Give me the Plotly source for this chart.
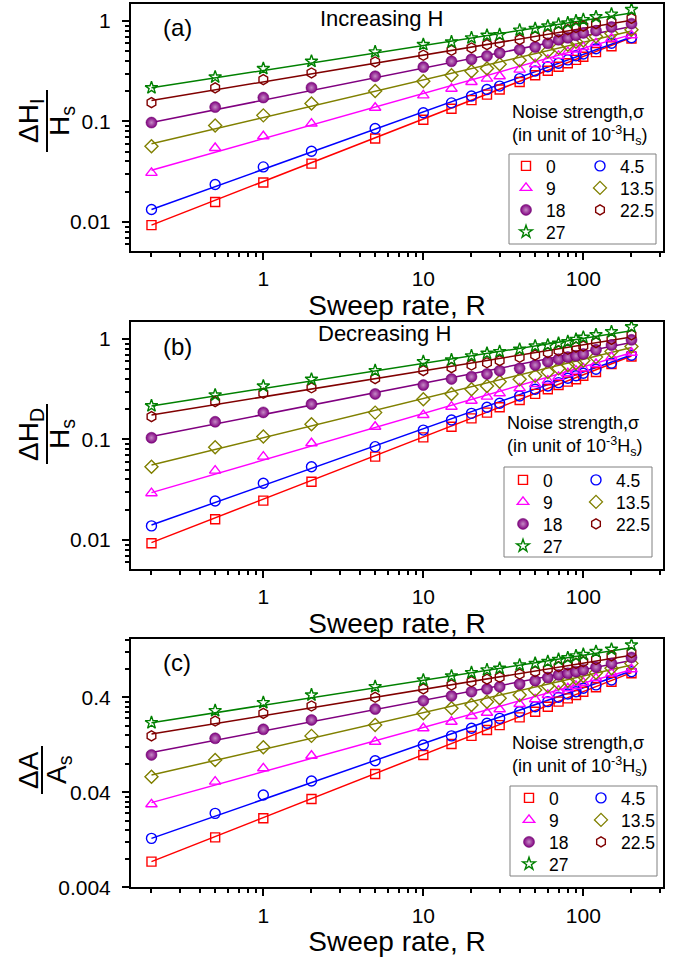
import numpy as np
import plotly.graph_objects as go

# Sweep rates common to all three panels
rate = [0.2, 0.5, 1, 2, 5, 10, 15, 20, 25, 30, 40, 50, 60, 70, 80, 90, 100, 120, 150, 200]
sigma_labels = ["0", "4.5", "9", "13.5", "18", "22.5", "27"]

# (a) hysteresis width, increasing field, dH_I / H_s
inc_s0 = [0.0093, 0.0158, 0.0247, 0.0381, 0.0676, 0.104, 0.134, 0.163, 0.185, 0.208, 0.247, 0.288, 0.32, 0.35, 0.38, 0.41, 0.44, 0.49, 0.56, 0.67]
inc_s4_5 = [0.0133, 0.0236, 0.0353, 0.0505, 0.085, 0.122, 0.153, 0.179, 0.208, 0.225, 0.267, 0.318, 0.35, 0.38, 0.41, 0.45, 0.47, 0.53, 0.60, 0.68]
inc_s9 = [0.0308, 0.0545, 0.0713, 0.0953, 0.137, 0.182, 0.212, 0.247, 0.267, 0.282, 0.328, 0.371, 0.41, 0.45, 0.49, 0.52, 0.55, 0.60, 0.67, 0.72]
inc_s13_5 = [0.0567, 0.091, 0.115, 0.151, 0.201, 0.251, 0.288, 0.316, 0.336, 0.371, 0.406, 0.456, 0.50, 0.54, 0.58, 0.62, 0.64, 0.70, 0.75, 0.82]
inc_s18 = [0.0975, 0.139, 0.173, 0.217, 0.282, 0.348, 0.397, 0.416, 0.449, 0.48, 0.519, 0.551, 0.60, 0.65, 0.68, 0.72, 0.76, 0.80, 0.87, 0.94]
inc_s22_5 = [0.154, 0.216, 0.261, 0.304, 0.391, 0.456, 0.511, 0.539, 0.582, 0.604, 0.653, 0.693, 0.73, 0.78, 0.82, 0.86, 0.89, 0.94, 0.98, 1.06]
inc_s27 = [0.216, 0.277, 0.336, 0.397, 0.492, 0.582, 0.618, 0.678, 0.72, 0.73, 0.81, 0.84, 0.89, 0.93, 0.955, 1.0, 1.03, 1.10, 1.17, 1.30]
# power-law fits  y = amp * R**expo
inc_fit_amp = [0.0253, 0.0334, 0.0674, 0.1095, 0.163, 0.248, 0.322]
inc_fit_exp = [0.622, 0.572, 0.45, 0.374, 0.319, 0.266, 0.248]

# (b) hysteresis width, decreasing field, dH_D / H_s
dec_s0 = [0.00927, 0.0161, 0.0246, 0.038, 0.0675, 0.105, 0.134, 0.162, 0.185, 0.209, 0.247, 0.284, 0.316, 0.348, 0.376, 0.397, 0.43, 0.47, 0.564, 0.67]
dec_s4_5 = [0.0138, 0.0244, 0.0367, 0.0536, 0.0848, 0.124, 0.156, 0.182, 0.209, 0.229, 0.271, 0.316, 0.34, 0.368, 0.407, 0.43, 0.456, 0.50, 0.573, 0.69]
dec_s9 = [0.0292, 0.049, 0.0675, 0.0917, 0.134, 0.175, 0.212, 0.243, 0.267, 0.288, 0.323, 0.356, 0.385, 0.42, 0.456, 0.484, 0.51, 0.564, 0.66, 0.73]
dec_s13_5 = [0.0536, 0.0836, 0.107, 0.142, 0.185, 0.251, 0.284, 0.316, 0.34, 0.376, 0.397, 0.43, 0.47, 0.51, 0.55, 0.573, 0.61, 0.66, 0.75, 0.84]
dec_s18 = [0.104, 0.150, 0.186, 0.225, 0.284, 0.348, 0.40, 0.421, 0.449, 0.484, 0.51, 0.55, 0.594, 0.63, 0.66, 0.68, 0.71, 0.78, 0.87, 0.98]
dec_s22_5 = [0.169, 0.238, 0.288, 0.327, 0.403, 0.484, 0.519, 0.551, 0.58, 0.608, 0.658, 0.69, 0.73, 0.765, 0.79, 0.83, 0.85, 0.92, 0.99, 1.10]
dec_s27 = [0.216, 0.277, 0.34, 0.397, 0.484, 0.594, 0.618, 0.678, 0.72, 0.748, 0.79, 0.85, 0.87, 0.905, 0.94, 0.99, 1.04, 1.10, 1.18, 1.32]
dec_fit_amp = [0.0255, 0.0349, 0.0624, 0.1043, 0.177, 0.2655, 0.322]
dec_fit_exp = [0.619, 0.564, 0.464, 0.39, 0.312, 0.259, 0.249]

# (c) loop area, dA / A_s
area_s0 = [0.00745, 0.0134, 0.0213, 0.034, 0.0624, 0.0988, 0.129, 0.157, 0.181, 0.204, 0.246, 0.282, 0.318, 0.36, 0.39, 0.423, 0.458, 0.51, 0.583, 0.716]
area_s4_5 = [0.0131, 0.024, 0.0375, 0.0526, 0.086, 0.126, 0.157, 0.189, 0.213, 0.24, 0.282, 0.318, 0.36, 0.40, 0.434, 0.458, 0.498, 0.54, 0.608, 0.744]
area_s9 = [0.0299, 0.0518, 0.0716, 0.097, 0.136, 0.189, 0.221, 0.254, 0.275, 0.299, 0.34, 0.381, 0.423, 0.47, 0.498, 0.526, 0.57, 0.634, 0.716, 0.79]
area_s13_5 = [0.0584, 0.0875, 0.119, 0.157, 0.204, 0.271, 0.306, 0.332, 0.36, 0.39, 0.423, 0.478, 0.526, 0.562, 0.598, 0.634, 0.67, 0.726, 0.81, 0.91]
area_s18 = [0.099, 0.148, 0.184, 0.231, 0.301, 0.368, 0.413, 0.458, 0.49, 0.517, 0.552, 0.598, 0.645, 0.687, 0.716, 0.744, 0.776, 0.83, 0.91, 1.05]
area_s22_5 = [0.157, 0.225, 0.271, 0.324, 0.40, 0.49, 0.539, 0.583, 0.62, 0.65, 0.703, 0.744, 0.79, 0.84, 0.875, 0.91, 0.95, 1.0, 1.09, 1.18]
area_s27 = [0.216, 0.289, 0.351, 0.423, 0.517, 0.608, 0.67, 0.726, 0.776, 0.807, 0.875, 0.91, 0.95, 1.0, 1.04, 1.09, 1.13, 1.21, 1.28, 1.42]
area_fit_amp = [0.02166, 0.0337, 0.0659, 0.1132, 0.1766, 0.256, 0.33]
area_fit_exp = [0.663, 0.587, 0.466, 0.386, 0.323, 0.277, 0.263]

W, H = 677, 958
FONT = "Liberation Sans, Arial, sans-serif"

styles = [
    dict(symbol="square-open", color="#ff0000", size=9),
    dict(symbol="circle-open", color="#0000ff", size=10),
    dict(symbol="triangle-up-open", color="#ff00ff", size=10),
    dict(symbol="diamond-open", color="#808000", size=10),
    dict(symbol="circle", color="#800080", size=11),
    dict(symbol="hexagon-open", color="#800000", size=10),
    dict(symbol="star-open", color="#008000", size=9.5),
]

# legend frame (x0, y0, x1, y1), symbol x of the two columns, row centres (px)
legend_layout = [
    dict(box=(509, 154, 656, 244), cols=(527, 601), rows=(166, 188, 210, 232)),
    dict(box=(504, 467, 652, 557), cols=(524, 597), rows=(480, 502, 524, 546)),
    dict(box=(510, 786, 657, 876), cols=(530, 602), rows=(798, 820, 842, 864)),
]

panels = [
    dict(series=[inc_s0, inc_s4_5, inc_s9, inc_s13_5, inc_s18, inc_s22_5, inc_s27],
         amp=inc_fit_amp, expo=inc_fit_exp, xa="x", ya="y"),
    dict(series=[dec_s0, dec_s4_5, dec_s9, dec_s13_5, dec_s18, dec_s22_5, dec_s27],
         amp=dec_fit_amp, expo=dec_fit_exp, xa="x2", ya="y2"),
    dict(series=[area_s0, area_s4_5, area_s9, area_s13_5, area_s18, area_s22_5, area_s27],
         amp=area_fit_amp, expo=area_fit_exp, xa="x3", ya="y3"),
]


def px_x(v):
    return v / W


def px_y(v):
    return 1 - v / H


fig = go.Figure()
r = np.array(rate)
legend_defs = {}
leg_no = 0
for pi, p in enumerate(panels):
    # fitted power laws (straight lines on log-log)
    for k in range(7):
        st = styles[k]
        fig.add_trace(go.Scatter(
            x=rate, y=p["amp"][k] * r ** p["expo"][k], mode="lines",
            line=dict(color=st["color"], width=1.5), showlegend=False,
            hoverinfo="skip", xaxis=p["xa"], yaxis=p["ya"]))
    lay = legend_layout[pi]
    for k in range(7):
        st = styles[k]
        marker = dict(symbol=st["symbol"], size=st["size"], color=st["color"],
                      line=dict(color=st["color"], width=1.4))
        if st["symbol"] == "circle":
            marker["gradient"] = dict(type="radial", color="#c58ac5")
            marker["line"] = dict(color="#6a006a", width=0.5)
        # one small legend per entry, arranged in two columns
        leg_no += 1
        lname = "legend" if leg_no == 1 else "legend%d" % leg_no
        col, row = k % 2, k // 2
        legend_defs[lname] = dict(
            x=px_x(lay["cols"][col] - 21), y=px_y(lay["rows"][row]),
            xanchor="left", yanchor="middle", orientation="v",
            bgcolor="rgba(0,0,0,0)", borderwidth=0,
            font=dict(family=FONT, size=17.5, color="black"),
        )
        fig.add_trace(go.Scatter(
            x=rate, y=p["series"][k], mode="markers", marker=marker,
            name=sigma_labels[k], legend=lname,
            xaxis=p["xa"], yaxis=p["ya"]))

x_dom = [px_x(131), px_x(663)]
y_doms = [[px_y(251), px_y(4)], [px_y(569), px_y(321.7)], [px_y(887.3), px_y(639.3)]]

axis_common = dict(
    type="log", showline=True, linecolor="black", linewidth=2, mirror=True,
    ticks="outside", ticklen=7, tickwidth=1.5, tickcolor="black",
    showgrid=False, zeroline=False, automargin=False,
    tickfont=dict(family=FONT, size=21, color="black"),
)

layout = dict(
    width=W, height=H, margin=dict(l=0, r=0, t=0, b=0, autoexpand=False),
    paper_bgcolor="white", plot_bgcolor="white",
    font=dict(family=FONT, color="black"),
)
layout.update(legend_defs)

y_ranges = [[-2.289, 0.169], [-2.289, 0.172], [np.log10(0.004), 0.2125]]
y_major = [[0.01, 0.1, 1], [0.01, 0.1, 1], [0.004, 0.04, 0.4]]
y_major_text = [["0.01", "0.1", "1"], ["0.01", "0.1", "1"], ["0.004", "0.04", "0.4"]]
area_minor = [m * d for d in (0.004, 0.04) for m in range(2, 10)] + [0.8, 1.2, 1.6]

for i in range(3):
    sfx = "" if i == 0 else str(i + 1)
    layout["xaxis" + sfx] = dict(
        axis_common, domain=x_dom, anchor="y" + sfx,
        range=[-0.827, 2.498], tickvals=[1, 10, 100], ticktext=["1", "10", "100"],
        ticklabelstandoff=1,
        minor=dict(ticks="outside", ticklen=4, tickwidth=1.5, tickcolor="black", dtick="D1"),
        title=dict(text="Sweep rate, R", font=dict(family=FONT, size=28, color="black"), standoff=1),
    )
    minor_y = dict(ticks="outside", ticklen=4, tickwidth=1.5, tickcolor="black")
    if i == 2:
        minor_y["tickvals"] = area_minor
    else:
        minor_y["dtick"] = "D1"
    layout["yaxis" + sfx] = dict(
        axis_common, domain=y_doms[i], anchor="x" + sfx,
        range=y_ranges[i], tickvals=y_major[i], ticktext=y_major_text[i],
        ticklabelstandoff=7, minor=minor_y,
    )

fig.update_layout(**layout)

ann = []
shapes = []


def add_text(text, x, y, size, angle=0, xanchor="center", align="center"):
    ann.append(dict(text=text, x=px_x(x), y=px_y(y), xref="paper", yref="paper",
                    showarrow=False, textangle=angle, xanchor=xanchor, yanchor="middle",
                    align=align, font=dict(family=FONT, size=size, color="black")))


# rotated fraction labels for the y axes
fractions = [
    ("ΔH<sub>I</sub>", "H<sub>s</sub>", 31, 62, 47, 90, 152),
    ("ΔH<sub>D</sub>", "H<sub>s</sub>", 31, 62, 47, 404, 464),
    ("ΔA", "A<sub>s</sub>", 28, 58, 42, 746, 794),
]
for num, den, xn, xd, xb, yb0, yb1 in fractions:
    yc = (yb0 + yb1) / 2
    add_text(num, xn, yc, 28, angle=-90)
    add_text(den, xd, yc, 28, angle=-90)
    shapes.append(dict(type="line", xref="paper", yref="paper",
                       x0=px_x(xb), x1=px_x(xb), y0=px_y(yb0), y1=px_y(yb1),
                       line=dict(color="black", width=2)))

add_text("(a)", 177, 28, 24)
add_text("(b)", 177, 346, 24)
add_text("(c)", 177, 662, 24)
add_text("Increasing H", 382, 19, 22)
add_text("Decreasing H", 384, 333, 22)

legend_titles = [(510, 125), (505, 436), (510, 756)]
for lx, ly in legend_titles:
    add_text("Noise strength,σ<br>(in unit of 10<sup>-3</sup>H<sub>s</sub>)", lx, ly, 18,
             xanchor="left", align="left")

# frames around the two-column legends
for lay in legend_layout:
    x0, y0, x1, y1 = lay["box"]
    shapes.append(dict(type="rect", xref="paper", yref="paper",
                       x0=px_x(x0), x1=px_x(x1), y0=px_y(y1), y1=px_y(y0),
                       line=dict(color="#808080", width=1)))

fig.update_layout(annotations=ann, shapes=shapes)
fig.write_html("out.html")
